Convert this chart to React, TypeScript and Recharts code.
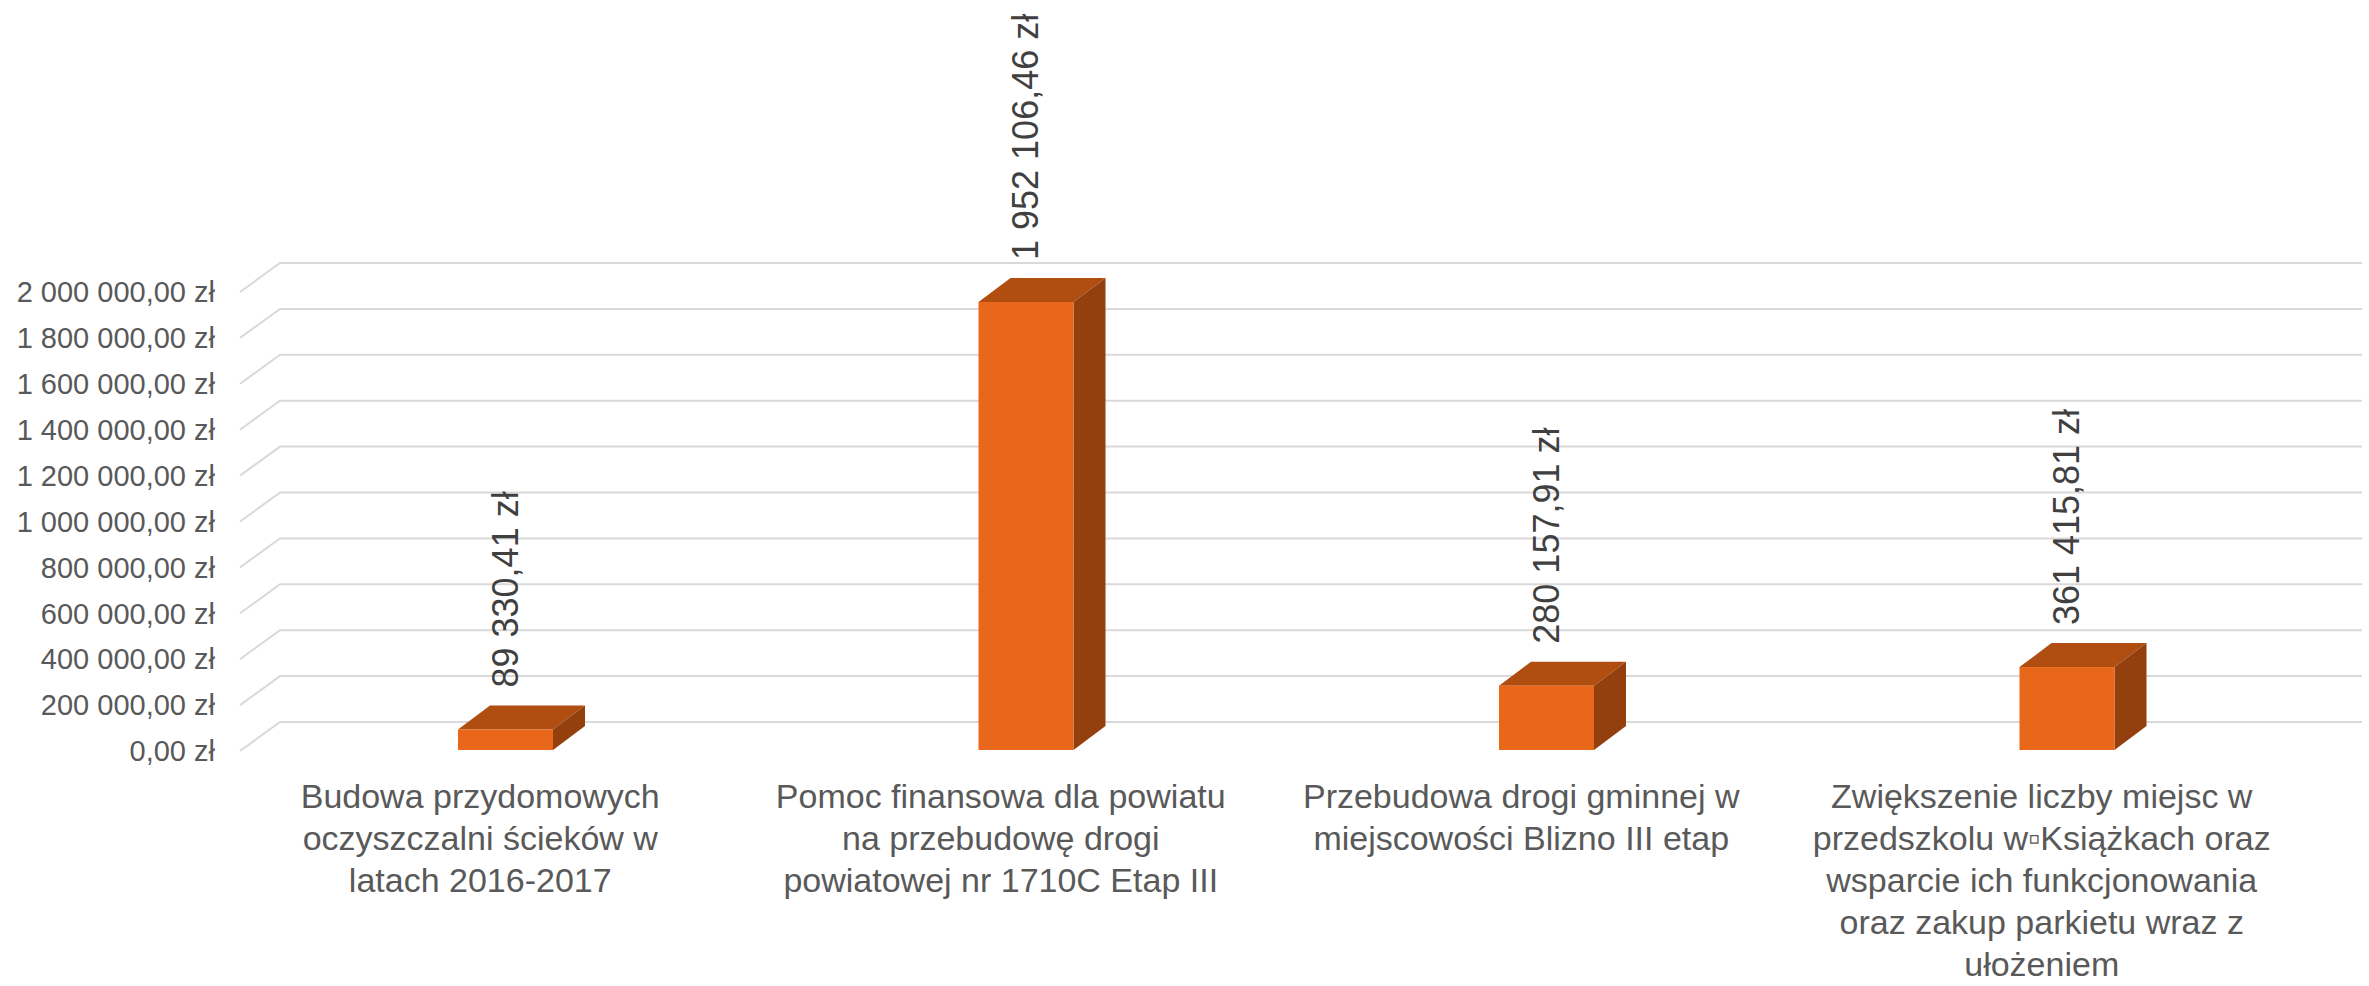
import React from 'react';
import { BarChart, Bar, XAxis, YAxis, CartesianGrid, LabelList } from 'recharts';

document.body.style.margin = '0';

const categories = [
    'Budowa przydomowych\noczyszczalni ścieków w\nlatach 2016-2017',
    'Pomoc finansowa dla powiatu\nna przebudowę drogi\npowiatowej nr 1710C Etap III',
    'Przebudowa drogi gminnej w\nmiejscowości Blizno III etap',
    'Zwiększenie liczby miejsc w\nprzedszkolu w\u25abKsiążkach oraz\nwsparcie ich funkcjonowania\noraz zakup parkietu wraz z\nułożeniem',
];
const values = [89330.41, 1952106.46, 280157.91, 361415.81];
const yTicks = [0, 200000, 400000, 600000, 800000, 1000000, 1200000, 1400000, 1600000, 1800000, 2000000];

const data = categories.map((name, i) => ({ name, value: values[i] }));

const FONT = '"Liberation Sans", Arial, sans-serif';
// depth of the fake 3D extrusion
const DX = 32;
const DY = 24;
const WALL_DX = 40;
const WALL_DY = 29;

const formatZl = (v: number) => {
    const [int, dec] = v.toFixed(2).split('.');
    return `${int.replace(/\B(?=(\d{3})+(?!\d))/g, ' ')},${dec} zł`;
};

const Box3D = (props: any) => {
    const { x, y, width, height } = props;
    if (height == null || width == null) return null;
    const fx = x + 5;
    const fy = y - 1;
    const w = width;
    const h = height;
    return (
        <g>
            <polygon
                points={`${fx},${fy} ${fx + DX},${fy - DY} ${fx + w + DX},${fy - DY} ${fx + w},${fy}`}
                fill="#B04E12"
            />
            <polygon
                points={`${fx + w},${fy} ${fx + w + DX},${fy - DY} ${fx + w + DX},${fy + h - DY} ${fx + w},${fy + h}`}
                fill="#943F0E"
            />
            <rect x={fx} y={fy} width={w} height={h} fill="#E8671A" />
        </g>
    );
};

const GridLine = (props: any) => {
    const { x1, y1, x2 } = props;
    return (
        <path
            key={props.key}
            d={`M${x1},${y1} L${x1 + WALL_DX},${y1 - WALL_DY} L${x2 + WALL_DX},${y1 - WALL_DY}`}
            stroke="#D9D9D9"
            strokeWidth={2}
            fill="none"
        />
    );
};

const ValueLabel = (props: any) => {
    const { x, y, width, value } = props;
    const cx = x + 5 + width / 2;
    const ty = y - 43;
    return (
        <text
            x={cx}
            y={ty}
            transform={`rotate(-90, ${cx}, ${ty})`}
            textAnchor="start"
            dominantBaseline="central"
            fill="#404040"
            fontSize={36}
            fontFamily={FONT}
        >
            {formatZl(value)}
        </text>
    );
};

const CategoryTick = (props: any) => {
    const { x, y, payload } = props;
    const lines = String(payload.value).split('\n');
    return (
        <text x={x - 20} y={y + 57} textAnchor="middle" fill="#595959" fontSize={34} fontFamily={FONT}>
            {lines.map((line, i) => (
                <tspan key={i} x={x - 20} dy={i === 0 ? 0 : 42}>
                    {line}
                </tspan>
            ))}
        </text>
    );
};

export default function App() {
    return (
        <div style={{ width: 2369, height: 986, background: '#fff' }}>
            <BarChart
                width={2369}
                height={986}
                data={data}
                margin={{ top: 292, right: 47, left: 0, bottom: 0 }}
                barSize={95}
            >
                <CartesianGrid vertical={false} horizontal={GridLine} />
                <XAxis
                    dataKey="name"
                    interval={0}
                    height={235}
                    axisLine={false}
                    tickLine={false}
                    tickSize={0}
                    tickMargin={0}
                    tick={CategoryTick}
                />
                <YAxis
                    width={240}
                    domain={[0, 2000000]}
                    ticks={yTicks}
                    tickFormatter={formatZl}
                    axisLine={false}
                    tickLine={false}
                    tickSize={0}
                    tickMargin={25}
                    tick={{ fill: '#595959', fontSize: 29, fontFamily: FONT }}
                />
                <Bar dataKey="value" shape={Box3D} isAnimationActive={false}>
                    <LabelList dataKey="value" content={ValueLabel} />
                </Bar>
            </BarChart>
        </div>
    );
}
